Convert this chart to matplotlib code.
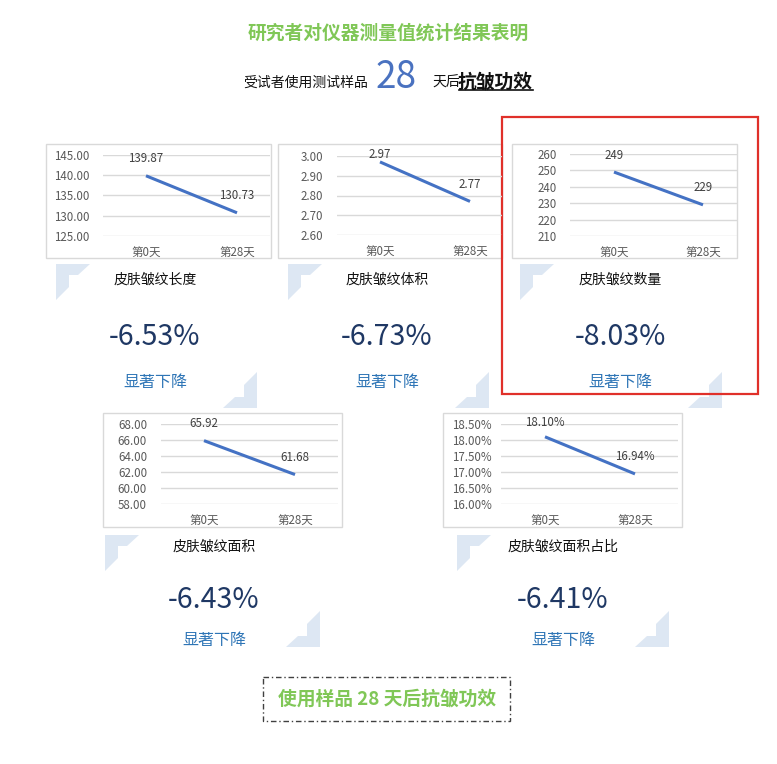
import matplotlib
matplotlib.use('Agg')
import matplotlib.pyplot as plt
from matplotlib.patches import Rectangle, Polygon
import numpy as np

plt.rcParams['font.family'] = ['Noto Sans CJK SC', 'DejaVu Sans']

# data
days = ['第0天', '第28天']
titles = ['皮肤皱纹长度', '皮肤皱纹体积', '皮肤皱纹数量', '皮肤皱纹面积', '皮肤皱纹面积占比']
values = [[139.87, 130.73], [2.97, 2.77], [249, 229], [65.92, 61.68], [0.1810, 0.1694]]
changes = ['-6.53%', '-6.73%', '-8.03%', '-6.43%', '-6.41%']
verdict = '显著下降'
y_ranges = [(125, 145, 5), (2.6, 3.0, 0.1), (210, 260, 10), (58, 68, 2), (0.16, 0.185, 0.005)]
fmts = ['{:.2f}', '{:.2f}', '{:.0f}', '{:.2f}', '{:.2%}']

header = '研究者对仪器测量值统计结果表明'
sub_a, sub_num, sub_b, sub_c = '受试者使用测试样品', '28', '天后', '抗皱功效'
footer = '使用样品 28 天后抗皱功效'

# layout, in pixels of the 777x764 picture
W, H = 777, 764
plot_px = [(103, 155, 270, 236), (337, 156, 502, 235), (570, 154, 737, 236),
           (161, 424, 338, 504), (501, 424, 678, 504)]
cat_px = [(146, 237), (380, 470), (614, 703), (204, 295), (545, 635)]
frame_px = [(46, 144, 271, 258), (278, 144, 502, 258), (512, 144, 737, 258),
            (103, 413, 342, 527), (443, 413, 682, 527)]
tick_pad = [9.5, 10, 9.5, 10, 6.5]
text_x = [155, 387, 620, 214, 563]
text_y = [(280, 337, 382)] * 3 + [(547, 600, 640)] * 2
corner_tl = [(56, 264), (288, 264), (520, 264), (105, 535), (457, 535)]
corner_br = [(257, 408), (489, 408), (722, 408), (320, 647), (669, 647)]

green = '#80C757'
light = '#DDE7F3'

fig = plt.figure(figsize=(W / 100, H / 100), dpi=100)
bg = fig.add_axes([0, 0, 1, 1])
bg.set_xlim(0, W)
bg.set_ylim(H, 0)
bg.axis('off')

# header
bg.text(388, 33, header, ha='center', va='center', fontsize=13.5, color=green, fontweight='bold')
bg.text(243, 87, sub_a, ha='left', va='baseline', fontsize=10, color='#111111')
bg.text(376, 88, sub_num, ha='left', va='baseline', fontsize=26.5, color='#4A72C0')
bg.text(432, 87, sub_b, ha='left', va='baseline', fontsize=10, color='#111111')
bg.text(458, 87, sub_c, ha='left', va='baseline', fontsize=13.5, color='#111111', fontweight='bold')
bg.plot([459, 533], [90, 90], color='#111111', lw=1.2)

tl_shape = np.array([(0, 0), (34, 0), (22, 11), (13, 11), (13, 23), (0, 36)])
br_shape = -tl_shape

for k in range(5):
    fl, ft, fr, fb = frame_px[k]
    bg.add_patch(Rectangle((fl, ft), fr - fl, fb - ft, fill=False, ec='#D9D9D9', lw=1))
    bg.add_patch(Polygon(tl_shape + corner_tl[k], closed=True, fc=light, ec='none'))
    bg.add_patch(Polygon(br_shape + corner_br[k], closed=True, fc=light, ec='none'))
    ty, py, vy = text_y[k]
    bg.text(text_x[k], ty, titles[k], ha='center', va='center', fontsize=10, color='#111111')
    bg.text(text_x[k], py, changes[k], ha='center', va='center', fontsize=20.5, color='#1F3864')
    bg.text(text_x[k], vy, verdict, ha='center', va='center', fontsize=11.5, color='#2E75B6')

    l, t, r, b = plot_px[k]
    ax = fig.add_axes([l / W, 1 - b / H, (r - l) / W, (b - t) / H])
    ax.set_facecolor('none')
    c0, c1 = cat_px[k]
    step = c1 - c0
    ax.set_xlim((l - c0) / step, (r - c0) / step)
    lo, hi, st = y_ranges[k]
    ax.set_ylim(lo, hi)
    ax.set_yticks(np.arange(lo, hi + st / 2, st))
    ax.set_yticklabels([fmts[k].format(v) for v in ax.get_yticks()])
    ax.set_xticks([0, 1])
    ax.set_xticklabels(days)
    ax.tick_params(length=0, labelsize=8.3, labelcolor='#595959')
    ax.tick_params(axis='y', pad=tick_pad[k])
    ax.tick_params(axis='x', pad=7)
    for s in ax.spines.values():
        s.set_visible(False)
    ax.yaxis.grid(True, color='#D9D9D9', lw=1)
    ax.set_axisbelow(True)
    ax.plot([0, 1], values[k], color='#4472C4', lw=2.2, solid_capstyle='butt')
    top = ax.transAxes.transform((0, 1))[1]
    for i, v in enumerate(values[k]):
        p = ax.transData.transform((i, v))
        dy = min(17, top - p[1] + 2)
        ax.annotate(fmts[k].format(v), (i, v), xytext=(0, dy * 0.72), textcoords='offset points',
                    ha='center', va='center', fontsize=8.3, color='#404040', annotation_clip=False)

# highlight around the third panel
bg.add_patch(Rectangle((502, 117), 256, 277, fill=False, ec='#E0302A', lw=1.6, zorder=5))

# footer
bg.add_patch(Rectangle((263, 677), 247, 44, fill=False, ec='#404040', lw=1, ls=(0, (4, 2, 1, 2))))
bg.text(387, 699, footer, ha='center', va='center', fontsize=13.5, color=green, fontweight='bold')

fig.savefig('out.png', dpi=100)
